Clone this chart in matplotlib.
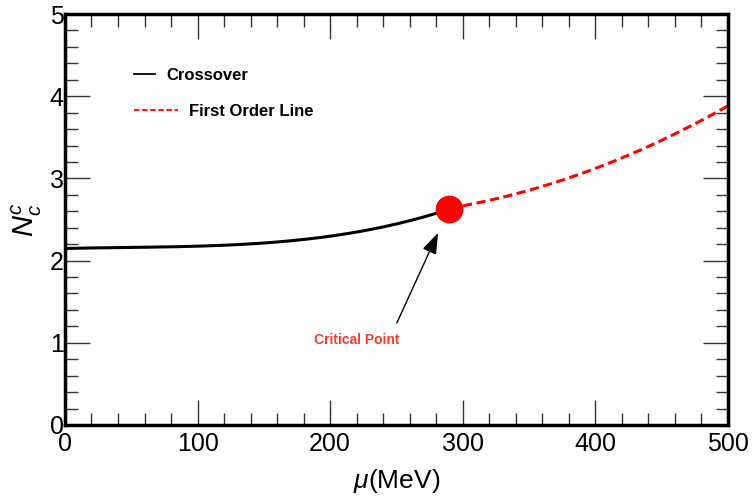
import matplotlib
matplotlib.use("Agg")
import matplotlib.pyplot as plt
from matplotlib.ticker import MultipleLocator
import numpy as np

plt.rcParams['font.family'] = ['Liberation Sans', 'DejaVu Sans']
plt.rcParams['mathtext.fontset'] = 'custom'
plt.rcParams['mathtext.it'] = 'Liberation Sans:italic'
plt.rcParams['mathtext.rm'] = 'Liberation Sans'

# Data
crossover_mu = [0, 50, 100, 150, 200, 222, 250, 280, 290]
crossover_nc = [2.15, 2.155, 2.175, 2.22, 2.30, 2.35, 2.44, 2.575, 2.63]
first_mu = [290, 333, 383, 434, 484, 500]
first_nc = [2.63, 2.80, 3.01, 3.35, 3.73, 3.89]
critical_mu = [290]
critical_nc = [2.63]

c1 = np.polyfit(crossover_mu, crossover_nc, 3)
c2 = np.polyfit(first_mu, first_nc, 2)
x1 = np.linspace(0, 290, 200)
x2 = np.linspace(290, 500, 200)

fig = plt.figure(figsize=(7.52, 4.97), dpi=100)
ax = fig.add_axes([0.0864, 0.1449, 0.968 - 0.0864, 0.9718 - 0.1449])

l1, = ax.plot(x1, np.polyval(c1, x1), color='black', lw=2.2, label='Crossover')
l2, = ax.plot(x2, np.polyval(c2, x2), color='red', lw=2.2, ls=(0, (3, 1.5)), label='First Order Line')
ax.plot(critical_mu, critical_nc, 'o', color='red', markersize=19, zorder=5)

ax.annotate('', xy=(282.3, 2.37), xytext=(249.4, 1.21),
            arrowprops=dict(arrowstyle='-|>,head_length=1.3,head_width=0.45', color='black', lw=1.0))
ax.text(220, 1.03, 'Critical Point', color='#ff3b30', fontsize=10, fontweight='bold',
        ha='center', va='center')

ax.set_xlim(0, 500)
ax.set_ylim(0, 5)
ax.xaxis.set_major_locator(MultipleLocator(100))
ax.xaxis.set_minor_locator(MultipleLocator(20))
ax.yaxis.set_major_locator(MultipleLocator(1))
ax.yaxis.set_minor_locator(MultipleLocator(0.2))
ax.tick_params(which='both', direction='in', top=True, right=True, width=1, color='#333333',
               labelsize=18)
ax.tick_params(which='major', length=18)
ax.tick_params(which='minor', length=9)
ax.tick_params(axis='x', pad=5)
ax.tick_params(axis='y', pad=1)
for s in ax.spines.values():
    s.set_linewidth(2.5)

ax.set_xlabel(r'$\mu$(MeV)', fontsize=19, labelpad=8)
ax.set_ylabel(r'$N_c^c$', fontsize=21, labelpad=4)

leg1 = ax.legend(handles=[l1], loc='upper left', bbox_to_anchor=(0.082, 0.905), frameon=False,
                 handlelength=1.25, handletextpad=0.65, prop=dict(weight='bold', size=12))
for h in leg1.legend_handles:
    h.set_linewidth(1.3)
ax.add_artist(leg1)
leg2 = ax.legend(handles=[l2], loc='upper left', bbox_to_anchor=(0.082, 0.817), frameon=False,
                 handlelength=2.6, handletextpad=0.7, prop=dict(weight='bold', size=12))
for h in leg2.legend_handles:
    h.set_linewidth(1.3)

fig.savefig('out.png', dpi=100)
